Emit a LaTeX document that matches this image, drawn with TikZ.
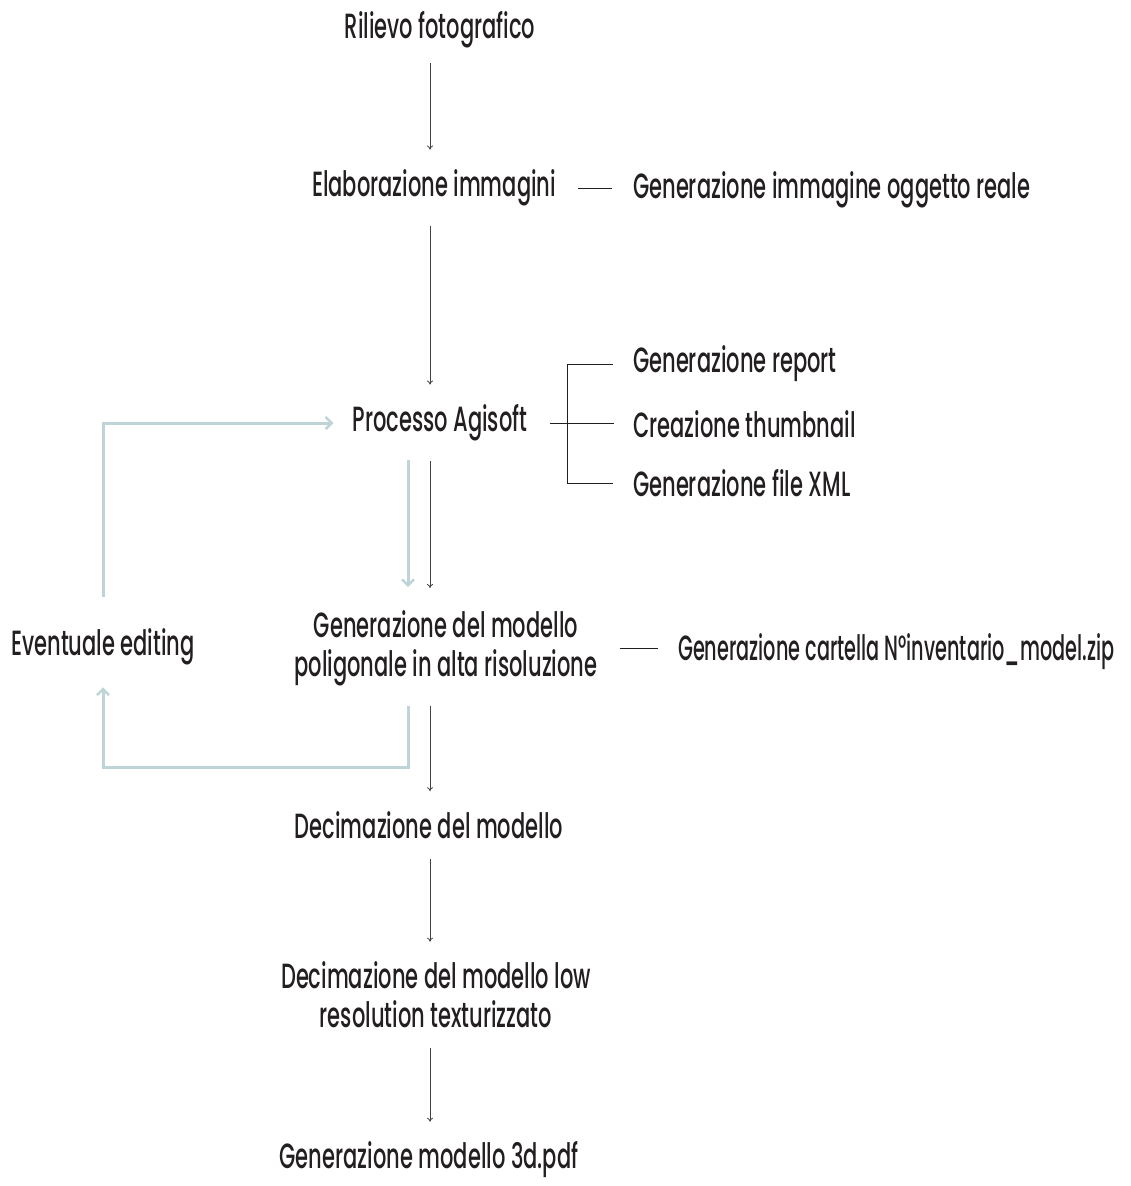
\documentclass[tikz,border=0pt]{standalone}
\usepackage{fontspec}
\setmainfont[FakeStretch=0.6,UprightFont={* Medium}]{Poppins}
\newfontfamily\narrowset[FakeStretch=0.55,UprightFont={* Medium}]{Poppins}
\usetikzlibrary{arrows.meta,calc}
\definecolor{ink}{HTML}{231F20}
\definecolor{loopblue}{HTML}{BFD4D7}
\begin{document}
\begin{tikzpicture}[x=1pt,y=-1pt,
  lbl/.style={font=\fontsize{35}{39}\selectfont, inner sep=0pt, text=ink, align=center},
  flow/.style={draw=ink!85, line width=0.8pt, -{To[length=4pt,width=6pt]}},
  tie/.style={draw=ink, line width=0.8pt},
  back/.style={draw=loopblue, line width=3pt, -{Straight Barb[length=6pt,width=12pt,line width=2.5pt]}}]
\useasboundingbox (0,0) rectangle (1130,1186);

% main column
\node[lbl] (rilievo) at (440,30) {Rilievo fotografico};
\node[lbl] (elab) at (434,188) {Elaborazione immagini};
\node[lbl] (agisoft) at (440,423) {Processo Agisoft};
\node[lbl] (polig) at (446,648) {Generazione del modello\\poligonale in alta risoluzione};
\node[lbl] (decim) at (429,825) {Decimazione del modello};
\node[lbl] (lowres) at (436,995) {Decimazione del modello low\\resolution texturizzato};
\node[lbl] (pdf) at (429,1160) {Generazione modello 3d.pdf};

% side outputs
\node[lbl, anchor=west] (genimg) at (633,190) {Generazione immagine oggetto reale};
\node[lbl, anchor=west] (report) at (633,364) {Generazione report};
\node[lbl, anchor=west] (thumb) at (633,424) {Creazione thumbnail};
\node[lbl, anchor=west] (xml) at (633,483) {Generazione file XML};
\node[lbl, anchor=west, font=\narrowset\fontsize{35}{39}\selectfont] (cartella) at (678,652) {Generazione cartella N°inventario\_model.zip};
\node[lbl] (editing) at (103,647) {Eventuale editing};

% rails
\coordinate (spine) at (430,0);
\coordinate (dn) at (408,0);
\coordinate (fork) at (567,0);
\coordinate (rail) at (103,767);

% main flow
\draw[flow] ($(rilievo.south -| spine)+(0,15)$) -- ($(elab.north -| spine)+(0,-20)$);
\draw[flow] ($(elab.south -| spine)+(0,20)$) -- ($(agisoft.north -| spine)+(0,-20)$);
\draw[flow] ($(agisoft.south -| spine)+(0,20)$) -- ($(polig.north -| spine)+(0,-22)$);
\draw[flow] ($(polig.south -| spine)+(0,20)$) -- ($(decim.north -| spine)+(0,-20)$);
\draw[flow] ($(decim.south -| spine)+(0,20)$) -- ($(lowres.north -| spine)+(0,-20)$);
\draw[flow] ($(lowres.south -| spine)+(0,20)$) -- ($(pdf.north -| spine)+(0,-20)$);

% side ties
\draw[tie] ($(elab.east)+(22,0)$) -- ($(elab.east -| genimg.west)+(-21,0)$);
\draw[tie] ($(agisoft.east)+(22,0)$) -- ($(agisoft.east -| thumb.west)+(-19,0)$);
\draw[tie] ($(report.west)+(-20,0)$) -| (fork |- xml.west) -- ($(xml.west)+(-20,0)$);
\draw[tie] ($(polig.east)+(22,0)$) -- ($(polig.east -| cartella.west)+(-20,0)$);

% editing loop
\draw[back] ($(agisoft.south -| dn)+(0,19)$) -- ($(polig.north -| dn)+(0,-23)$);
\draw[back] ($(polig.south -| dn)+(0,20)$) -- (dn |- rail) -- (rail) -- ($(editing.south)+(0,22)$);
\draw[back] ($(editing.north)+(0,-32)$) -- (editing.north |- agisoft) -- ($(agisoft.west)+(-19,0)$);
\end{tikzpicture}
\end{document}
